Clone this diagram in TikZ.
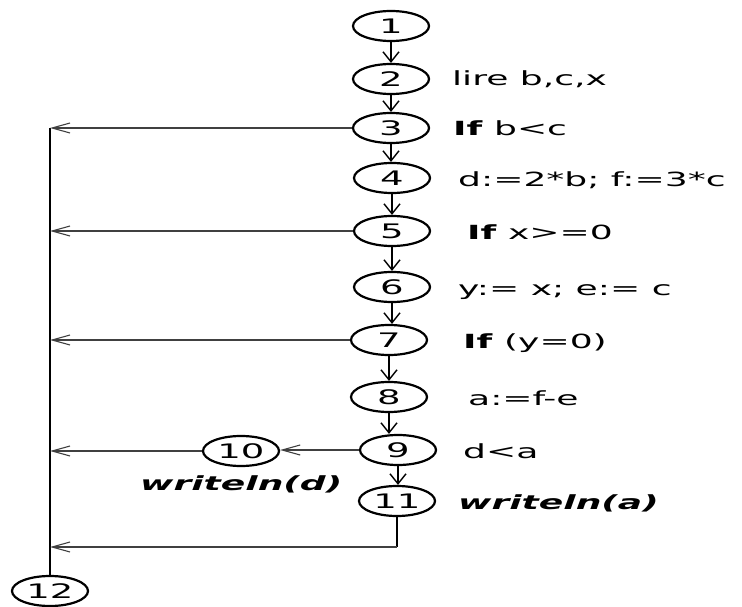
\documentclass[tikz,border=0pt]{standalone}
\usepackage{fontspec}
\setmainfont[FakeStretch=1.85]{DejaVu Sans}
\usetikzlibrary{shapes.geometric,arrows.meta}
\begin{document}
\begin{tikzpicture}[x=1pt,y=-1pt,
  st/.style={ellipse, draw, line width=2.2pt, minimum width=76pt, minimum height=30pt, inner sep=0pt, font=\fontsize{20}{22}\selectfont},
  lbl/.style={anchor=base west, inner sep=0pt, font=\fontsize{19.5}{22}\selectfont},
  varr/.style={line width=1.4pt, -{Straight Barb[length=10pt,width=16pt]}},
  harr/.style={line width=1.1pt, black!75, -{Straight Barb[length=18pt,width=10pt]}},
  spine/.style={line width=2.2pt}]
\useasboundingbox (0,0) rectangle (742,607);
% nodes
\node[st] (n1) at (391,26) {1};
\node[st] (n2) at (391,79) {2};
\node[st] (n3) at (391,128) {3};
\node[st] (n4) at (392,178) {4};
\node[st] (n5) at (392,231) {5};
\node[st] (n6) at (392,287) {6};
\node[st] (n7) at (389,340) {7};
\node[st] (n8) at (389,397) {8};
\node[st] (n9) at (398,450) {9};
\node[st] (n10) at (241,451) {10};
\node[st] (n11) at (397,501) {11};
\node[st] (n12) at (50,591) {12};
% labels
\node[lbl] (t2) at (452,86) {lire b,c,x};
\node[lbl] (t3) at (453,136) {\textbf{If} b<c};
\node[lbl] (t4) at (458,186) {d:=2*b; f:=3*c};
\node[lbl] (t5) at (467,239) {\textbf{If} x>=0};
\node[lbl] (t6) at (458,295) {y:= x; e:= c};
\node[lbl] (t7) at (463,348) {\textbf{If} (y=0)};
\node[lbl] (t8) at (468,405) {a:=f-e};
\node[lbl] (t9) at (463,458) {d<a};
\node[lbl] (t11) at (458,509) {\textbf{\textit{writeln(a)}}};
\node[lbl] (t10) at (140,490) {\textbf{\textit{writeln(d)}}};
% coordinates
\coordinate (top) at (50,128);
\coordinate (c11) at (397,547);
% vertical flow
\draw[varr] (n1.south) -- (n1.south |- n2.north);
\draw[varr] (n2.south) -- (n2.south |- n3.north);
\draw[varr] (n3.south) -- (n3.south |- n4.north);
\draw[varr] (n4.south) -- (n4.south |- n5.north);
\draw[varr] (n5.south) -- (n5.south |- n6.north);
\draw[varr] (n6.south) -- (n6.south |- n7.north);
\draw[varr] (n7.south) -- (n7.south |- n8.north);
\draw[varr] (n8.south) -- (n8.south |- n9.north);
\draw[varr] (n9.south) -- (n9.south |- n11.north);
\draw[line width=1.4pt] (n11.south) -- (c11);
% spine
\draw[spine] (top) -- (n12.north);
% horizontal arrows
\draw[harr] (n3.west) -- (n3.west -| top);
\draw[harr] (n5.west) -- (n5.west -| top);
\draw[harr] (n7.west) -- (n7.west -| top);
\draw[harr] (n9.west) -- (n9.west -| n10.east);
\draw[harr] (n10.west) -- (n10.west -| top);
\draw[harr] (c11) -- (c11 -| top);
\end{tikzpicture}
\end{document}
